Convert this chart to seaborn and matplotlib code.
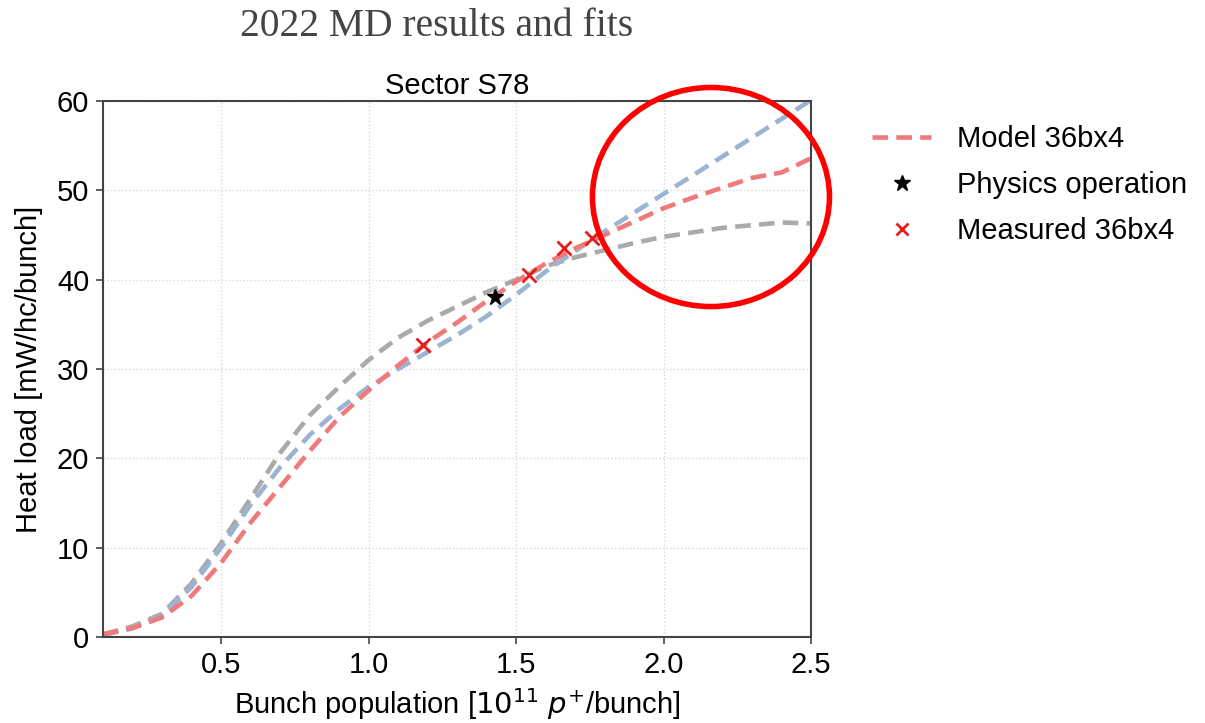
import numpy as np
import pandas as pd
import matplotlib
matplotlib.use("Agg")
import matplotlib.pyplot as plt
import seaborn as sns
from matplotlib.lines import Line2D
from matplotlib.patches import Ellipse

# Bunch population grid [1e11 p/bunch]
x_grid = [0.1, 0.2, 0.3, 0.4, 0.5, 0.6, 0.7, 0.8, 0.9, 1.0, 1.1, 1.2, 1.3,
          1.4, 1.5, 1.6, 1.7, 1.8, 1.9, 2.0, 2.1, 2.2, 2.3, 2.4, 2.5]

# Heat load curves [mW/hc/bunch]
gray_fit = [0.3, 1.2, 2.6, 6.0, 10.5, 15.5, 20.6, 24.8, 28.0, 31.0, 33.5, 35.4, 37.0,
            38.6, 40.0, 41.5, 42.5, 43.3, 44.1, 44.8, 45.3, 45.8, 46.1, 46.4, 46.3]
blue_fit = [0.2, 1.0, 2.4, 5.6, 10.0, 14.8, 19.0, 22.6, 25.5, 28.0, 30.0, 31.9, 33.8,
            35.9, 38.3, 40.9, 43.2, 45.4, 47.5, 49.6, 51.7, 53.8, 55.9, 58.0, 60.1]
model_36bx4 = [0.3, 1.0, 2.2, 4.6, 8.3, 12.8, 16.8, 20.8, 24.6, 27.6, 30.4, 33.0, 35.2,
               37.6, 39.8, 41.8, 43.5, 45.0, 46.5, 48.0, 49.2, 50.3, 51.4, 52.0, 53.6]

# Measurements
meas_x = [1.183, 1.543, 1.662, 1.756]
meas_y = [32.7, 40.5, 43.5, 44.7]
phys_x = [1.428]
phys_y = [38.1]

sns.set_style("whitegrid", {"grid.linestyle": ":", "grid.color": "#d8d8d8",
                            "axes.edgecolor": "#444444"})
plt.rcParams['font.family'] = ['Liberation Sans', 'DejaVu Sans']

fig = plt.figure(figsize=(12.05, 7.23), dpi=100)
ax = fig.add_axes([0.0855, 0.1189, 0.5876, 0.7414])

df = pd.DataFrame({'x': x_grid, 'gray': gray_fit, 'blue': blue_fit, 'model': model_36bx4})

dash = (3.4, 1.8)
lw = 3.3
sns.lineplot(data=df, x='x', y='gray', ax=ax, color='#aaaaaa', lw=lw)
sns.lineplot(data=df, x='x', y='blue', ax=ax, color='#9cb4d4', lw=lw)
sns.lineplot(data=df, x='x', y='model', ax=ax, color='#f07a7a', lw=lw)
for ln in ax.get_lines():
    ln.set_dashes(dash)

ax.plot(meas_x, meas_y, ls='none', marker='x', ms=10, mew=2, color='#e0201e', zorder=5)
ax.plot(phys_x, phys_y, ls='none', marker='*', ms=12, color='black', zorder=6)

ax.set_xlim(0.1, 2.5)
ax.set_ylim(0, 60)
ax.set_xticks([0.5, 1.0, 1.5, 2.0, 2.5])
ax.set_yticks([0, 10, 20, 30, 40, 50, 60])
ax.tick_params(axis='both', labelsize=21, length=5, width=1.2, color='#444444',
               labelcolor='black', bottom=True, left=True, direction='out', pad=5)
for s in ax.spines.values():
    s.set_linewidth(1.5)
    s.set_color('#444444')
ax.grid(True, lw=1.0)

ax.set_xlabel(r"Bunch population [$10^{11}$ $p^{+}$/bunch]", fontsize=21, labelpad=5,
              color='black')
ax.set_ylabel("Heat load [mW/hc/bunch]", fontsize=21, labelpad=10, color='black')
ax.set_title("Sector S78", fontsize=21, pad=5, color='black')

handles = [
    Line2D([], [], color='#f07a7a', lw=lw, dashes=dash),
    Line2D([], [], ls='none', marker='*', ms=12, color='black'),
    Line2D([], [], ls='none', marker='x', ms=9, mew=2, color='#e0201e'),
]
labels = ["Model 36bx4", "Physics operation", "Measured 36bx4"]
fig.legend(handles, labels, loc='upper left', bbox_to_anchor=(0.724, 0.827),
           frameon=False, fontsize=21, labelcolor='black', handlelength=2.0,
           handletextpad=0.9, labelspacing=0.62, borderpad=0, borderaxespad=0)

fig.text(0.199, 0.963, "2022 MD results and fits", fontsize=28.5, color='#444444',
         family=['Liberation Serif', 'DejaVu Serif'], va='center', ha='left')

fig.patches.append(Ellipse((0.590, 0.7275), 0.1967, 0.303, transform=fig.transFigure,
                           fill=False, edgecolor='red', lw=4, zorder=10))

fig.savefig("out.png", dpi=100)
